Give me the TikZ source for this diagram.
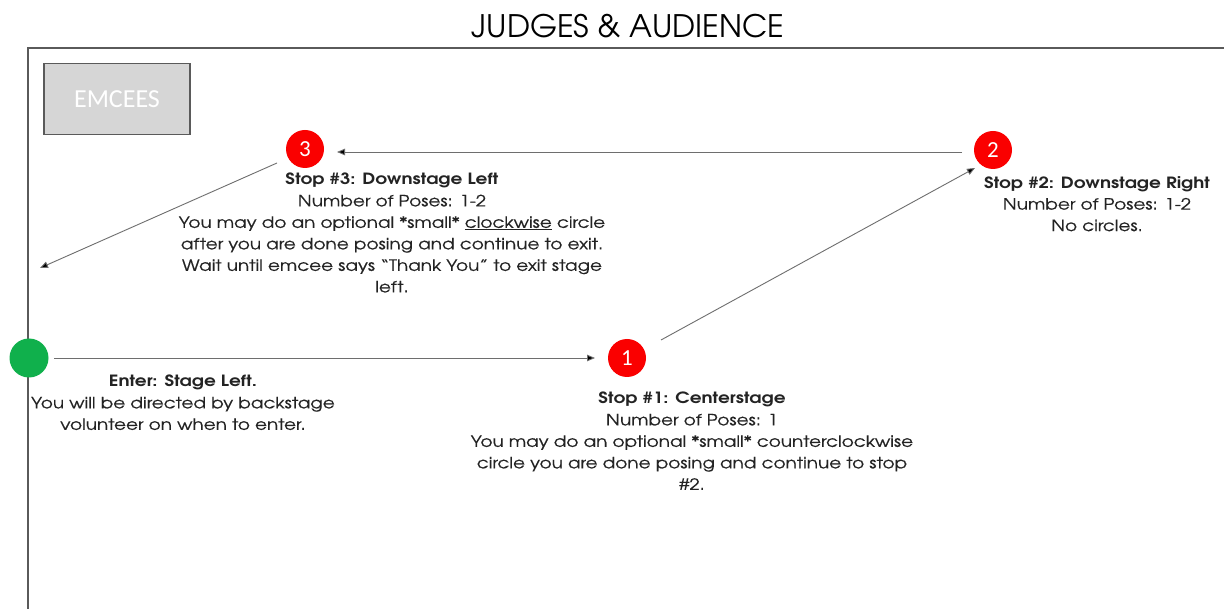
\documentclass[tikz,border=0pt]{standalone}
\usepackage{fontspec}
\setmainfont{TeX Gyre Adventor}[FakeStretch=1.19, UprightFeatures={FakeBold=0.5}]
\newfontfamily\titlefont{TeX Gyre Adventor}
\newfontfamily\calfont{Carlito}
\usetikzlibrary{arrows.meta,calc}
\definecolor{stopred}{RGB}{250,0,0}
\definecolor{entergreen}{RGB}{16,176,76}
\definecolor{linegray}{RGB}{110,110,110}
\definecolor{framegray}{RGB}{90,90,90}
\definecolor{emceefill}{RGB}{214,214,214}
\definecolor{txt}{RGB}{35,35,35}
\begin{document}
\begin{tikzpicture}[x=1pt,y=-1pt,
  stopdot/.style={circle,fill=stopred,minimum size=38pt,inner sep=0pt,text=white,font=\calfont\fontsize{23}{23}\selectfont},
  enterdot/.style={circle,fill=entergreen,minimum size=39pt,inner sep=0pt},
  emceebox/.style={draw=framegray,line width=1.3pt,fill=emceefill,minimum width=146pt,minimum height=71pt,text=white,font=\calfont\fontsize{26}{26}\selectfont},
  desc/.style={anchor=north,inner sep=0pt,align=center,text=txt,font=\fontsize{15.5}{21.5}\selectfont},
  route/.style={draw=linegray,line width=0.9pt,-{Triangle[length=8pt,width=6.5pt,fill=black]}},
  frame/.style={draw=framegray,line width=1.8pt}
]
\useasboundingbox (0,0) rectangle (1224,609);
\fill[white] (0,0) rectangle (1224,609);
\draw[frame] (28,609) -- (28,48) -- (1224,48);
\node[font=\titlefont\fontsize{31}{31}\selectfont,text=black,inner sep=0pt] (title) at (628,26) {JUDGES \& AUDIENCE};
\node[emceebox] (emcees) at (117,99) {EMCEES};
\node[stopdot] (s3) at (305,149) {3};
\node[stopdot] (s2) at (993,150) {2};
\node[stopdot] (s1) at (627,358) {1};
\node[enterdot] (enter) at (29,358) {};
\coordinate (exit) at (40,268);
\draw[route] ($(enter)+(25,0)$) -- ($(s1)+(-32,0)$);
\draw[route] ($(s1)+(34,-18)$) -- ($(s2)+(-18,18)$);
\draw[route] ($(s2)+(-31,2)$) -- ($(s3)+(32,3)$);
\draw[route] ($(s3)+(-28,14)$) -- (exit);
\node[desc] (t3) at (392,173) {\textbf{Stop \#3: Downstage Left}\\Number of Poses: 1-2\\You may do an optional *small* \underline{clockwise} circle\\after you are done posing and continue to exit.\\Wait until emcee says “Thank You” to exit stage\\left.};
\node[desc] (t2) at (1097,176) {\textbf{Stop \#2: Downstage Right}\\Number of Poses: 1-2\\No circles.};
\node[desc] (t0) at (183,375) {\textbf{Enter: Stage Left.}\\You will be directed by backstage\\volunteer on when to enter.};
\node[desc] (t1) at (692,392) {\textbf{Stop \#1: Centerstage}\\Number of Poses: 1\\You may do an optional *small* counterclockwise\\circle you are done posing and continue to stop\\\#2.};
\end{tikzpicture}
\end{document}
